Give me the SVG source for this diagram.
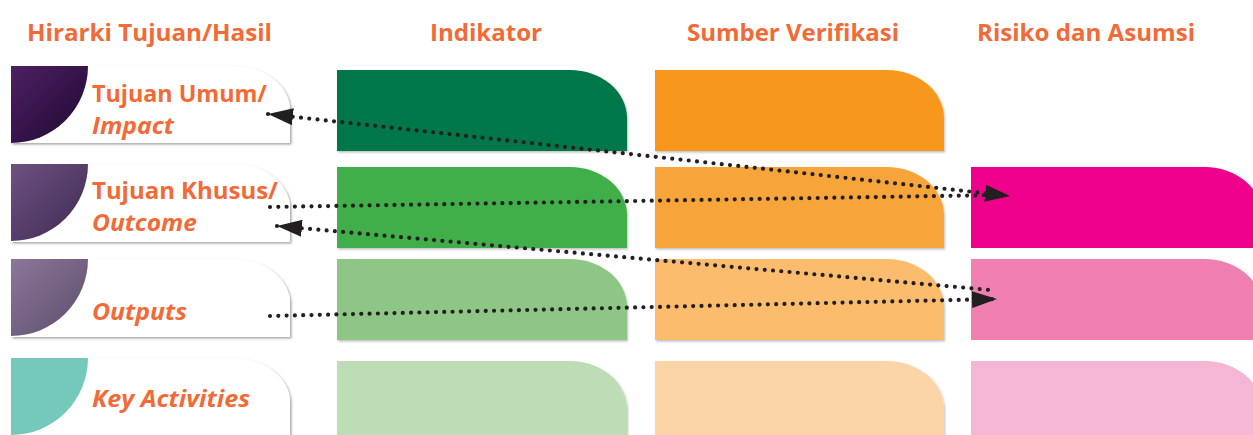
<svg xmlns="http://www.w3.org/2000/svg" width="1253" height="435" viewBox="0 0 1253 435">
<style>
.hdr{font-family:"Open Sans","Liberation Sans",sans-serif;font-weight:700;font-size:24px;fill:#F26A36}
.lbl{font-family:"Open Sans","Liberation Sans",sans-serif;font-weight:700;font-size:24px;fill:#F26A36}
.it{font-style:italic}
.wbox{fill:#ffffff;filter:url(#sh)}
.cbox{filter:url(#sh2)}
.dot{fill:none;stroke:#231F20;stroke-width:4.2;stroke-linecap:round;stroke-dasharray:0 8.3}
</style>
<defs>
<filter id="sh" x="-5%" y="-10%" width="115%" height="130%">
<feDropShadow dx="1.5" dy="1.5" stdDeviation="1.2" flood-color="#000" flood-opacity="0.35"/>
</filter>
<filter id="sh2" x="-5%" y="-10%" width="115%" height="130%">
<feDropShadow dx="1" dy="1.5" stdDeviation="1.2" flood-color="#000" flood-opacity="0.25"/>
</filter>
<linearGradient id="g1" x1="0" y1="0" x2="1" y2="1">
<stop offset="0" stop-color="#4E2063"/><stop offset="1" stop-color="#1E0830"/>
</linearGradient>
<linearGradient id="g2" x1="0" y1="0" x2="1" y2="1">
<stop offset="0" stop-color="#6E5181"/><stop offset="1" stop-color="#3D2A52"/>
</linearGradient>
<linearGradient id="g3" x1="0" y1="0" x2="1" y2="1">
<stop offset="0" stop-color="#8C7798"/><stop offset="1" stop-color="#5C4C6B"/>
</linearGradient>
<marker id="ah" viewBox="0 0 25 17" refX="25" refY="8.5" markerWidth="25" markerHeight="17" markerUnits="userSpaceOnUse" orient="auto-start-reverse">
<path d="M0,0 L25,8.5 L0,17 Z" fill="#231F20"/>
</marker>
</defs>
<rect width="1253" height="435" fill="#ffffff"/>

<g id="headers">
<text class="hdr" x="27" y="41" textLength="245" lengthAdjust="spacingAndGlyphs">Hirarki Tujuan/Hasil</text>
<text class="hdr" x="430" y="41" textLength="112" lengthAdjust="spacingAndGlyphs">Indikator</text>
<text class="hdr" x="687" y="41" textLength="212" lengthAdjust="spacingAndGlyphs">Sumber Verifikasi</text>
<text class="hdr" x="977" y="41" textLength="218" lengthAdjust="spacingAndGlyphs">Risiko dan Asumsi</text>
</g>

<g id="hier-impact">
<path class="wbox" d="M11,66 H233 A57 44 0 0 1 290,110 V143 H11 Z"/>
<path d="M11,66 H88 A77 77 0 0 1 11,143 Z" fill="url(#g1)"/>
<text class="lbl" x="92" y="102" textLength="175" lengthAdjust="spacingAndGlyphs">Tujuan Umum/</text>
<text class="lbl it" x="92" y="134" textLength="82" lengthAdjust="spacingAndGlyphs">Impact</text>
</g>
<g id="hier-outcome">
<path class="wbox" d="M11,164 H233 A57 44 0 0 1 290,208 V242 H11 Z"/>
<path d="M11,164 H88 A77 77 0 0 1 11,241 Z" fill="url(#g2)"/>
<text class="lbl" x="92" y="199" textLength="186" lengthAdjust="spacingAndGlyphs">Tujuan Khusus/</text>
<text class="lbl it" x="92" y="231" textLength="105" lengthAdjust="spacingAndGlyphs">Outcome</text>
</g>
<g id="hier-outputs">
<path class="wbox" d="M11,259 H233 A57 44 0 0 1 290,303 V337 H11 Z"/>
<path d="M11,259 H88 A77 77 0 0 1 11,336 Z" fill="url(#g3)"/>
<text class="lbl it" x="92" y="320" textLength="95" lengthAdjust="spacingAndGlyphs">Outputs</text>
</g>
<g id="hier-activities">
<path class="wbox" d="M11,358 H233 A57 44 0 0 1 290,402 V450 H11 Z"/>
<path d="M11,358 H88 A77 77 0 0 1 11,435 Z" fill="#74C9BB"/>
<text class="lbl it" x="92" y="407" textLength="158" lengthAdjust="spacingAndGlyphs">Key Activities</text>
</g>

<g id="indikator-1"><path class="cbox" fill="#00774A" d="M337,70 H570 A57 48 0 0 1 627,118 V151 H337 Z"/></g>
<g id="indikator-2"><path class="cbox" fill="#3FAE4A" d="M337,167 H570 A57 48 0 0 1 627,215 V248 H337 Z"/></g>
<g id="indikator-3"><path class="cbox" fill="#8DC685" d="M337,259 H570 A57 48 0 0 1 627,307 V340 H337 Z"/></g>
<g id="indikator-4"><path class="cbox" fill="#BCDDB6" d="M337,361 H570 A57 48 0 0 1 627,409 V450 H337 Z"/></g>

<g id="sumber-1"><path class="cbox" fill="#F7981D" d="M655,70 H887 A57 48 0 0 1 944,118 V151 H655 Z"/></g>
<g id="sumber-2"><path class="cbox" fill="#F7A53B" d="M655,167 H887 A57 48 0 0 1 944,215 V248 H655 Z"/></g>
<g id="sumber-3"><path class="cbox" fill="#FBBC6E" d="M655,259 H887 A57 48 0 0 1 944,307 V340 H655 Z"/></g>
<g id="sumber-4"><path class="cbox" fill="#FBD5A7" d="M655,361 H887 A57 48 0 0 1 944,409 V450 H655 Z"/></g>

<g id="risiko-2"><path fill="#EC008C" d="M971,167 H1205 A57 48 0 0 1 1262,215 V248 H971 Z"/></g>
<g id="risiko-3"><path fill="#EF80B1" d="M971,259 H1205 A57 48 0 0 1 1262,307 V340 H971 Z"/></g>
<g id="risiko-4"><path fill="#F5B5D4" d="M971,361 H1205 A57 48 0 0 1 1262,409 V450 H971 Z"/></g>

<g id="connectors">
<path class="dot" d="M268,114 L1010,196" marker-start="url(#ah)" marker-end="url(#ah)"/>
<path class="dot" d="M270,207 L1000,195"/>
<path class="dot" d="M277,226 L990,290" marker-start="url(#ah)"/>
<path class="dot" d="M270,316 L997,299" marker-end="url(#ah)"/>
</g>
</svg>
